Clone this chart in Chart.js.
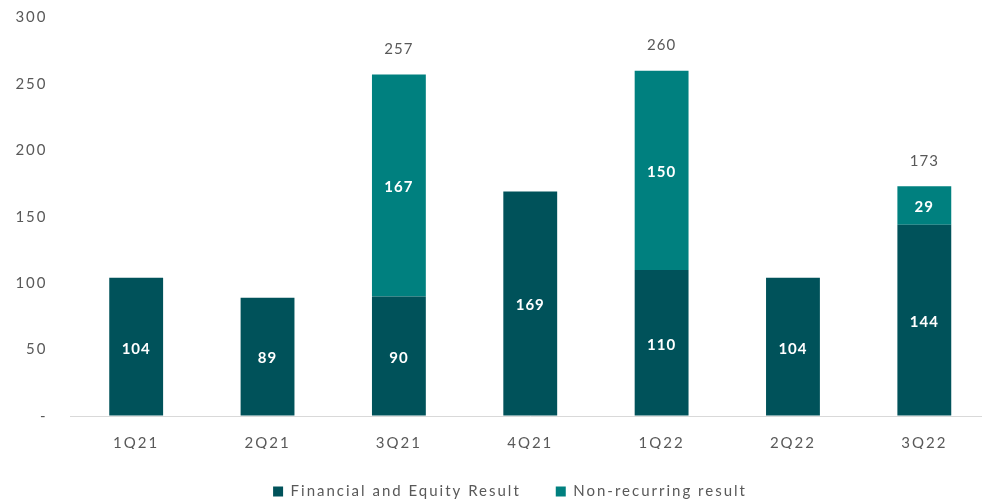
<!DOCTYPE html>
<html>
<head>
<meta charset="utf-8">
<script src="https://cdn.jsdelivr.net/npm/chart.js@4/dist/chart.umd.min.js"></script>
<style>
  html, body { margin: 0; padding: 0; background: #fff; overflow: hidden; }
  #wrap { width: 1000px; height: 501px; }
</style>
</head>
<body>
<div id="wrap"><canvas id="resultsChart"></canvas></div>
<script>
(function() {
  'use strict';

  var quarters = ['1Q21', '2Q21', '3Q21', '4Q21', '1Q22', '2Q22', '3Q22'];
  var financialEquity = [104, 89, 90, 169, 110, 104, 144];
  var nonRecurring = [null, null, 167, null, 150, null, 29];
  var yTicks = [0, 50, 100, 150, 200, 250, 300];

  var darkTeal = '#00525A';
  var lightTeal = '#00807F';
  var grey = '#595959';

  // the reference text is set wide, canvas letterSpacing gets reset on resize
  var spacingPlugin = {
    id: 'wideText',
    beforeLayout: function(chart) { chart.ctx.letterSpacing = '2px'; },
    afterLayout: function(chart) {
      // legend sits a bit right of the canvas centre in the original
      chart.legend.left += 15;
      chart.legend.right += 15;
    },
    beforeDraw: function(chart) { chart.ctx.letterSpacing = '2px'; }
  };

  // white values inside the bars, grey totals above the stacked ones
  var labelPlugin = {
    id: 'barLabels',
    afterDatasetsDraw: function(chart) {
      var c = chart.ctx;
      c.save();
      c.letterSpacing = '1px';
      c.textAlign = 'center';
      c.textBaseline = 'middle';
      c.font = 'bold 15px Lato';
      c.fillStyle = '#ffffff';
      chart.data.datasets.forEach(function(ds, i) {
        var meta = chart.getDatasetMeta(i);
        meta.data.forEach(function(bar, j) {
          var v = ds.data[j];
          if (v == null) return;
          c.fillText(String(v), bar.x, (bar.y + bar.base) / 2 + 2);
        });
      });
      var top = chart.getDatasetMeta(1);
      c.font = '15px Lato';
      c.fillStyle = grey;
      top.data.forEach(function(bar, j) {
        if (nonRecurring[j] == null) return;
        var total = financialEquity[j] + nonRecurring[j];
        c.fillText(String(total), bar.x, bar.y - 25);
      });
      c.restore();
    }
  };

  new Chart(document.getElementById('resultsChart'), {
    type: 'bar',
    data: {
      labels: quarters,
      datasets: [{
        label: 'Financial and Equity Result',
        data: financialEquity,
        backgroundColor: darkTeal,
        barPercentage: 0.82,
        categoryPercentage: 0.5
      }, {
        label: 'Non-recurring result',
        data: nonRecurring,
        backgroundColor: lightTeal,
        barPercentage: 0.82,
        categoryPercentage: 0.5
      }]
    },
    options: {
      responsive: true,
      maintainAspectRatio: false,
      animation: false,
      layout: { padding: { top: 17.5, right: 10, left: 0, bottom: -8 } },
      plugins: {
        tooltip: { enabled: false },
        legend: {
          position: 'bottom',
          labels: {
            boxWidth: 10,
            boxHeight: 10,
            padding: 35,
            color: grey,
            font: { family: 'Lato', size: 15 }
          }
        }
      },
      scales: {
        x: {
          stacked: true,
          // invisible tick marks used as spacing under the axis line
          grid: { display: true, drawOnChartArea: false, drawTicks: true, tickLength: 21, tickColor: 'rgba(0,0,0,0)' },
          border: { color: '#d9d9d9', width: 1 },
          ticks: {
            color: grey,
            padding: -3,
            font: { family: 'Lato', size: 15 }
          }
        },
        y: {
          stacked: true,
          min: 0,
          max: 300,
          afterBuildTicks: function(axis) {
            axis.ticks = yTicks.map(function(v) { return { value: v }; });
          },
          afterFit: function(axis) { axis.width = 70.5; },
          grid: { display: true, drawOnChartArea: false, drawTicks: true, tickLength: 23, tickColor: 'rgba(0,0,0,0)' },
          border: { display: false },
          ticks: {
            color: grey,
            padding: 0,
            font: { family: 'Lato', size: 15 },
            callback: function(v) { return v === 0 ? '-' : v; }
          }
        }
      }
    },
    plugins: [spacingPlugin, labelPlugin]
  });
}());
</script>
</body>
</html>
